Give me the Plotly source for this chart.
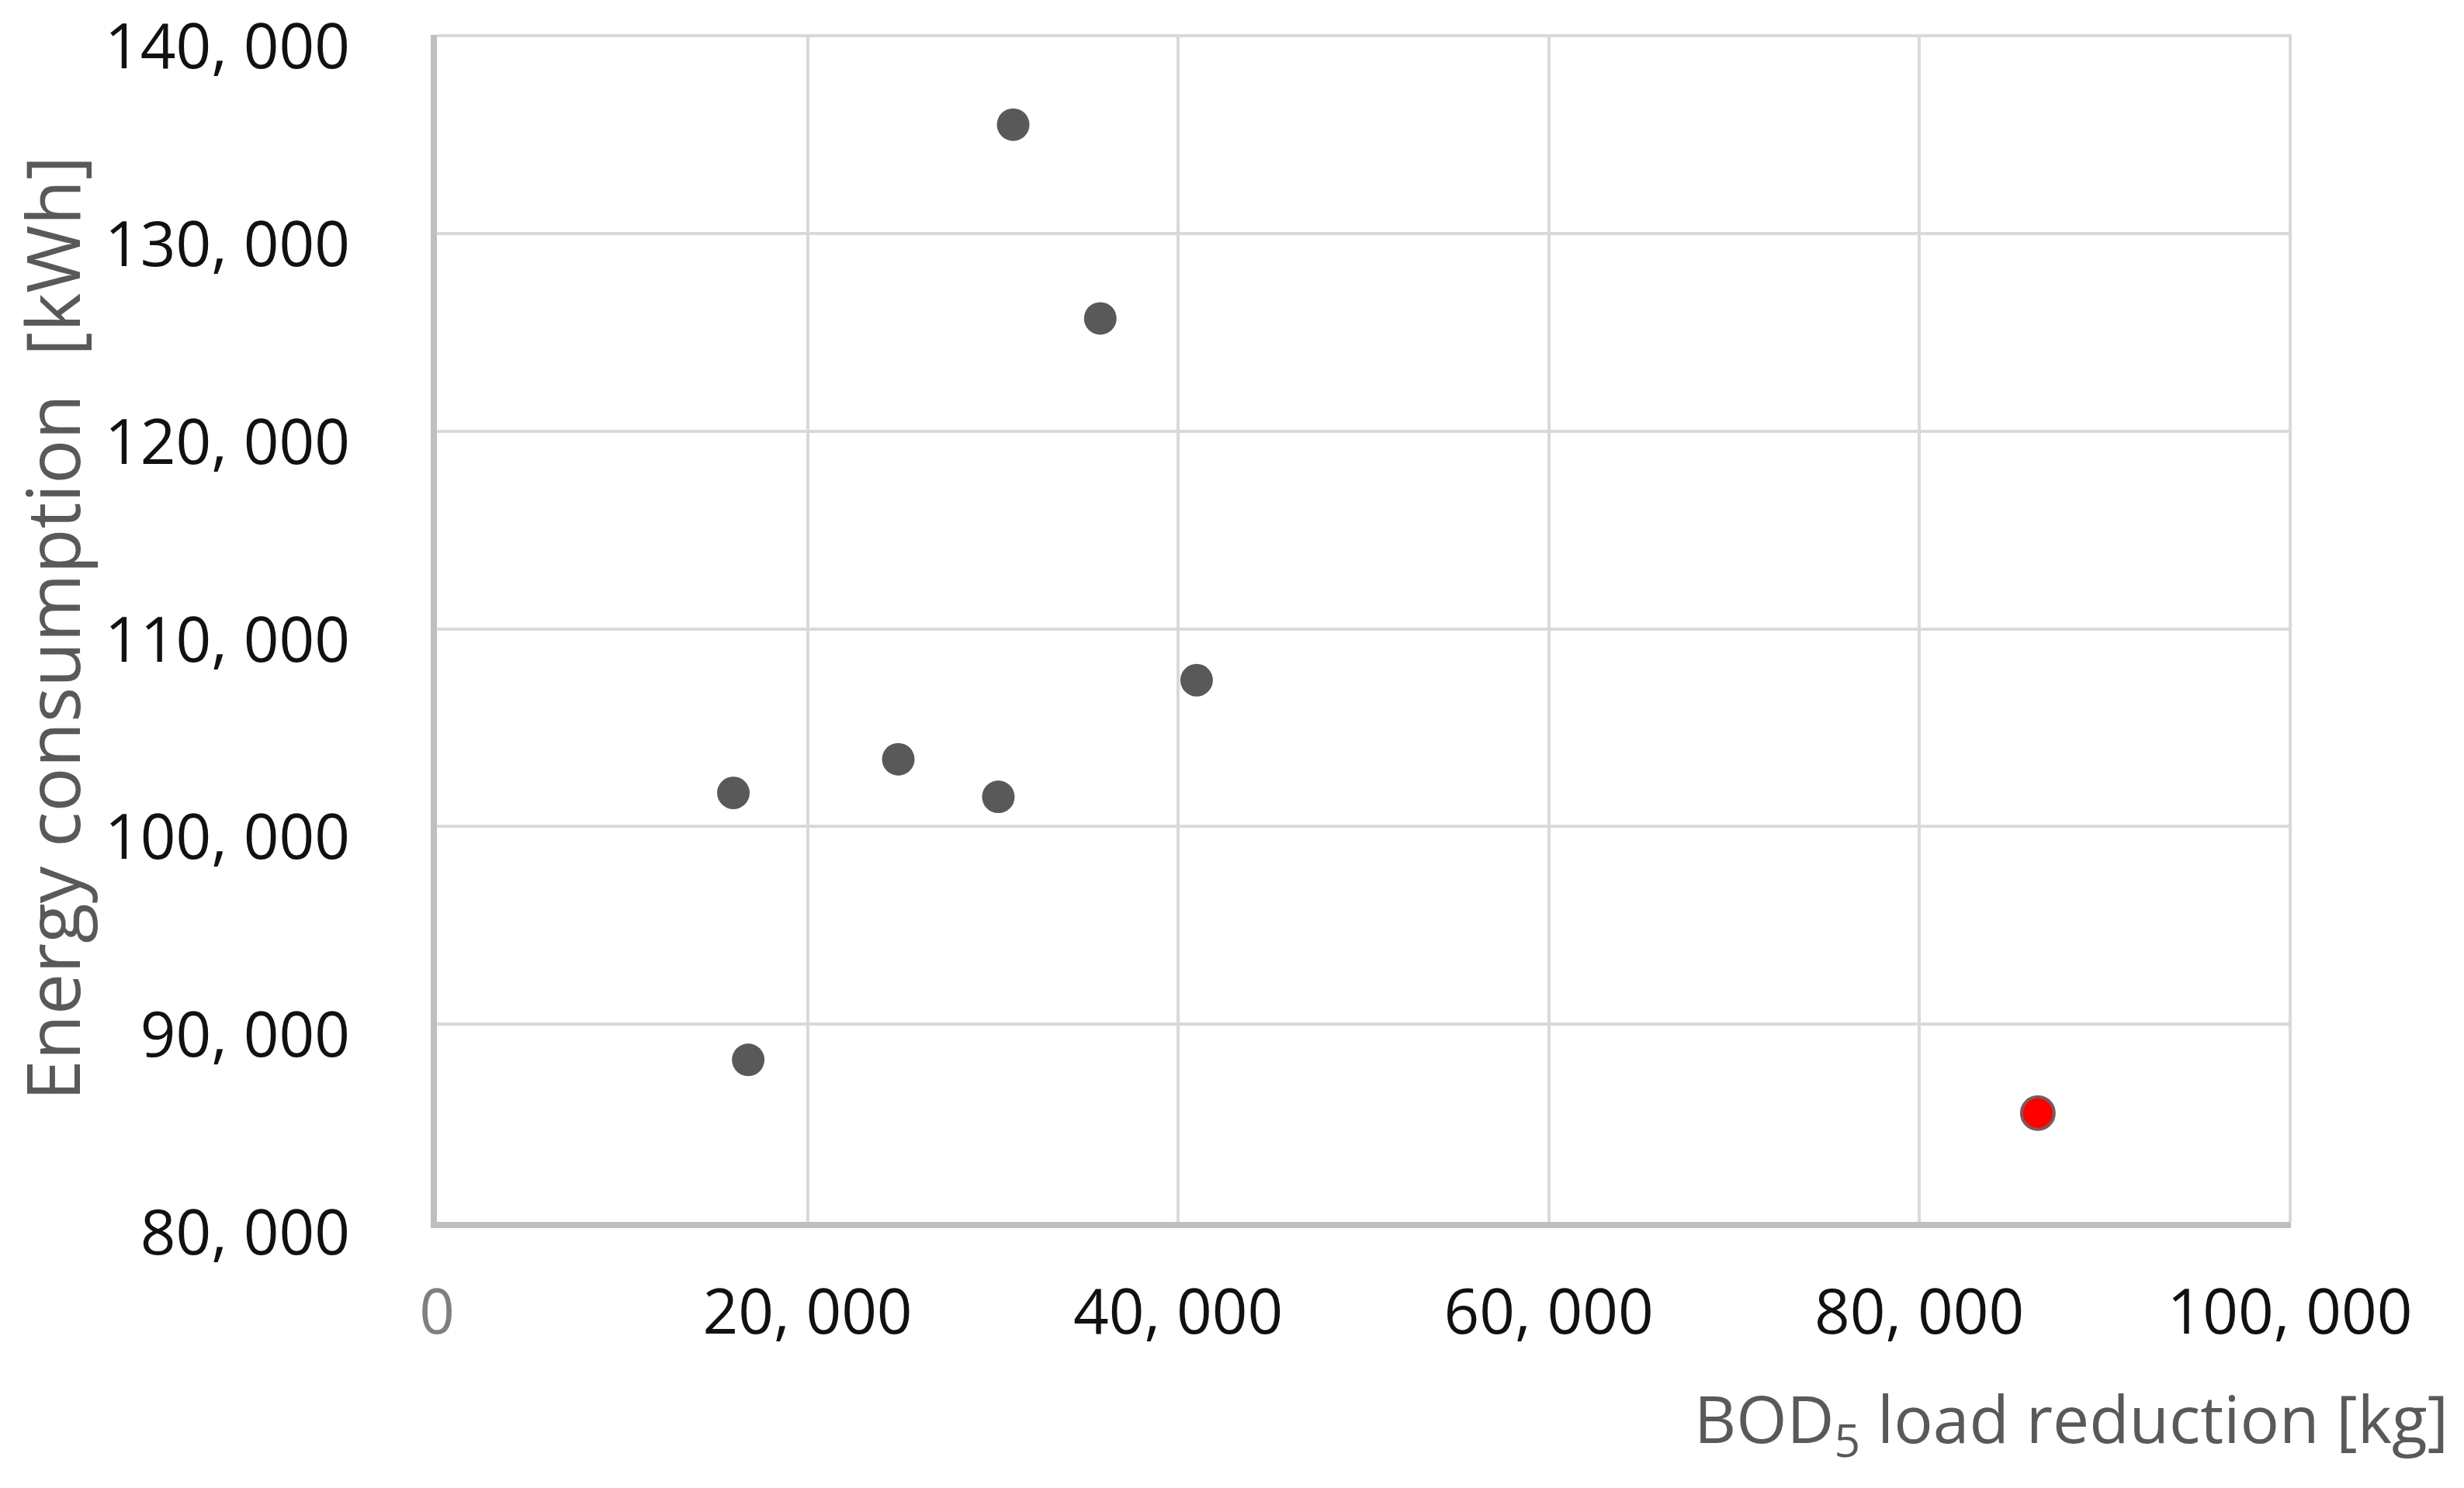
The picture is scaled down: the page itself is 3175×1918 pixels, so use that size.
import plotly.graph_objects as go

# BOD5 load reduction [kg] vs energy consumption [kWh]
bod_reduction = [31100, 35800, 41000, 24900, 16000, 30300, 16800]
energy_use = [135500, 125700, 107400, 103400, 101700, 101500, 88200]

# highlighted plant (red marker)
bod_highlight = [86400]
energy_highlight = [85500]

x_ticks = [0, 20000, 40000, 60000, 80000, 100000]
x_ticktext = ['<span style="color:#7f7f7f">0</span>', "20, 000", "40, 000",
              "60, 000", "80, 000", "100, 000"]
y_ticks = [80000, 90000, 100000, 110000, 120000, 130000, 140000]
y_ticktext = ["80, 000", "90, 000", "100, 000", "110, 000", "120, 000",
              "130, 000", "140, 000"]

FONT = "Open Sans"
GRID = "#d9d9d9"
AXIS = "#bfbfbf"
TITLE_GREY = "#595959"

fig = go.Figure()
fig.add_trace(go.Scatter(
    x=bod_reduction, y=energy_use, mode="markers",
    marker=dict(size=42, color="#595959", line=dict(width=0)),
    showlegend=False,
))
fig.add_trace(go.Scatter(
    x=bod_highlight, y=energy_highlight, mode="markers",
    marker=dict(size=42, color="#ff0000", line=dict(width=4, color="#7a5a5a")),
    showlegend=False,
))

# ranges nudged a hair past the last tick so plotly keeps the edge gridlines
fig.update_xaxes(
    range=[0, 100060], tickvals=x_ticks, ticktext=x_ticktext,
    showgrid=True, gridcolor=GRID, gridwidth=4,
    showline=True, linecolor=AXIS, linewidth=8, zeroline=False,
    ticks="", ticklabelstandoff=40, automargin=False,
    tickfont=dict(family=FONT, size=80, color="#111111"),
)
fig.update_yaxes(
    range=[80000, 140040], tickvals=y_ticks, ticktext=y_ticktext,
    showgrid=True, gridcolor=GRID, gridwidth=4,
    showline=True, linecolor=AXIS, linewidth=8, zeroline=False,
    ticks="", ticklabelstandoff=88, ticklabeloverflow="allow",
    ticklabelshift=14, automargin=False,
    tickfont=dict(family=FONT, size=80, color="#111111"),
)

fig.add_annotation(
    text="Energy consumption\u00a0\u00a0[kWh]", textangle=-90,
    xref="paper", yref="paper", x=-0.208, y=0.5,
    xanchor="center", yanchor="middle", showarrow=False,
    font=dict(family=FONT, size=95, color=TITLE_GREY),
)
fig.add_annotation(
    text="BOD<sub>5</sub> load reduction [kg]",
    xref="paper", yref="paper", x=1.0858, y=-0.1686,
    xanchor="right", yanchor="middle", showarrow=False,
    font=dict(family=FONT, size=84, color=TITLE_GREY),
)

fig.update_layout(
    width=3175, height=1918,
    margin=dict(l=555, r=231, t=37, b=351, autoexpand=False),
    plot_bgcolor="white", paper_bgcolor="white",
    font=dict(family=FONT),
)

fig.write_html("out.html")
